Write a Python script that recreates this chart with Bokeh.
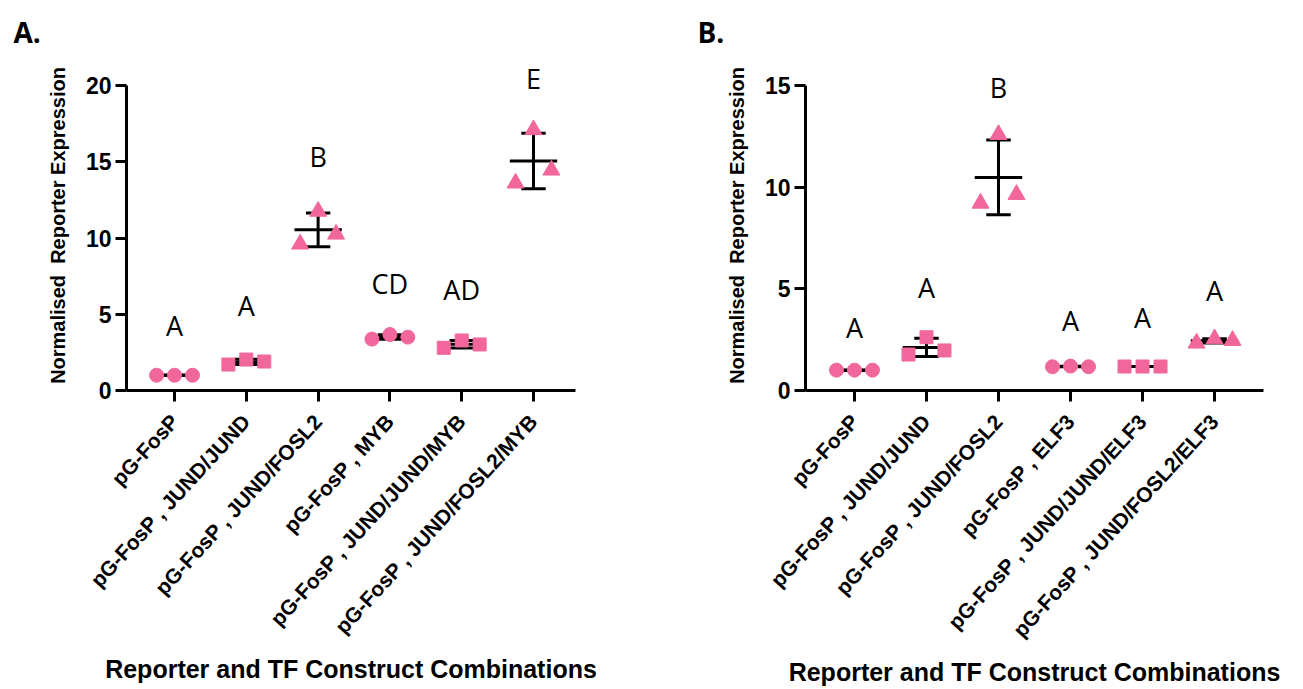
import numpy as np
from bokeh.plotting import figure
from bokeh.layouts import row
from bokeh.models import FixedTicker, Range1d, ColumnDataSource
from bokeh.core.properties import value
from bokeh.embed import file_html
from bokeh.resources import INLINE

# ---------------- data ----------------
labels_a = ["pG-FosP", "pG-FosP , JUND/JUND", "pG-FosP , JUND/FOSL2",
            "pG-FosP , MYB", "pG-FosP , JUND/JUND/MYB", "pG-FosP , JUND/FOSL2/MYB"]
labels_b = ["pG-FosP", "pG-FosP , JUND/JUND", "pG-FosP , JUND/FOSL2",
            "pG-FosP , ELF3", "pG-FosP , JUND/JUND/ELF3", "pG-FosP , JUND/FOSL2/ELF3"]

a_pgfosp = [1.0, 1.0, 1.0]
a_jund_jund = [1.70, 2.03, 1.90]
a_jund_fosl2 = [9.6, 11.75, 10.25]
a_myb = [3.37, 3.67, 3.50]
a_jund_jund_myb = [2.80, 3.28, 3.02]
a_jund_fosl2_myb = [13.6, 17.1, 14.45]
letters_a = ["A", "A", "B", "CD", "AD", "E"]
letter_y_a = [4.26, 5.57, 15.36, 7.04, 6.62, 20.44]

b_pgfosp = [1.0, 1.0, 1.0]
b_jund_jund = [1.77, 2.62, 1.97]
b_jund_fosl2 = [9.21, 12.59, 9.64]
b_elf3 = [1.17, 1.20, 1.17]
b_jund_jund_elf3 = [1.18, 1.18, 1.18]
b_jund_fosl2_elf3 = [2.33, 2.54, 2.46]
letters_b = ["A", "A", "B", "A", "A", "A"]
letter_y_b = [3.11, 5.08, 14.92, 3.44, 3.61, 4.92]

yticks_a = [0, 5, 10, 15, 20]
yticks_b = [0, 5, 10, 15]

markers = ["circle", "square", "triangle", "circle", "square", "triangle"]

PINK = "#F2679B"
AXFONT = "Liberation Sans"
H = 689
TOP = 60
BOTTOM = H - 390


def make_panel(groups, labels, letters, letter_y, yticks, panel_letter,
               width, border_left, frame_w, x_range, y_top, title_offset):
    p = figure(width=width, height=H, output_backend="svg", toolbar_location=None,
               x_range=Range1d(*x_range), y_range=Range1d(0, y_top),
               min_border_left=border_left, min_border_right=width - border_left - frame_w,
               min_border_top=TOP, min_border_bottom=BOTTOM)
    p.outline_line_color = None
    p.grid.visible = False
    p.background_fill_color = "white"
    p.border_fill_color = "white"

    p.title.text = panel_letter
    p.title.text_font = "Open Sans"
    p.title.text_font_style = "bold"
    p.title.text_font_size = "28px"
    p.title.text_color = "black"
    p.title.align = "left"
    p.title.offset = title_offset
    p.title.standoff = 19

    cats = list(range(1, len(labels) + 1))
    jit = [-0.25, 0.0, 0.25]
    means = [float(np.mean(g)) for g in groups]
    sds = [float(np.std(g, ddof=1)) for g in groups]

    # error bars (mean +/- SD)
    p.segment(x0=[c - 0.33 for c in cats], x1=[c + 0.33 for c in cats], y0=means, y1=means,
              line_color="black", line_width=3)
    p.segment(x0=cats, x1=cats, y0=[m - s for m, s in zip(means, sds)],
              y1=[m + s for m, s in zip(means, sds)], line_color="black", line_width=3)
    for sign in (1, -1):
        ys = [m + sign * s for m, s in zip(means, sds)]
        p.segment(x0=[c - 0.17 for c in cats], x1=[c + 0.17 for c in cats], y0=ys, y1=ys,
                  line_color="black", line_width=3)

    for c, g, mk in zip(cats, groups, markers):
        size = {"circle": 14, "square": 13, "triangle": 17}[mk]
        p.scatter(x=[c + j for j in jit], y=g, marker=mk, size=size,
                  fill_color=PINK, line_color=PINK)

    src = ColumnDataSource(dict(x=cats, y=letter_y, t=letters))
    p.text(x="x", y="y", text="t", source=src, text_align="center", text_baseline="middle",
           text_font=value("Open Sans"), text_font_size="27px", text_color="black")

    # axes
    for ax in (p.xaxis[0], p.yaxis[0]):
        ax.axis_line_width = 3
        ax.major_tick_line_width = 3
        ax.major_tick_out = 11
        ax.major_tick_in = 0
        ax.minor_tick_line_color = None
        ax.major_label_text_font = AXFONT
        ax.major_label_text_font_style = "bold"
        ax.major_label_text_color = "black"
        ax.axis_label_text_font = AXFONT
        ax.axis_label_text_font_style = "bold"
        ax.axis_label_text_color = "black"
    p.yaxis.ticker = FixedTicker(ticks=yticks)
    p.yaxis.bounds = (0, yticks[-1])
    p.yaxis.major_label_text_font_size = "23px"
    p.yaxis.major_label_standoff = 4
    p.yaxis.axis_label = "Normalised\u00a0 Reporter Expression"
    p.yaxis.axis_label_text_font_size = "20px"
    p.yaxis.axis_label_standoff = 14

    p.xaxis.ticker = FixedTicker(ticks=cats)
    p.xaxis.major_label_overrides = {c: l for c, l in zip(cats, labels)}
    p.xaxis.major_label_orientation = 0.83
    p.xaxis.major_label_text_font_size = "21px"
    p.xaxis.major_label_standoff = 16
    p.xaxis.axis_label = "Reporter and TF Construct Combinations"
    p.xaxis.axis_label_text_font_size = "25px"
    p.xaxis.axis_label_standoff = 6
    return p


pa = make_panel([a_pgfosp, a_jund_jund, a_jund_fosl2, a_myb, a_jund_jund_myb, a_jund_fosl2_myb],
                labels_a, letters_a, letter_y_a, yticks_a, "A.",
                width=680, border_left=126, frame_w=449, x_range=(0.331, 6.585),
                y_top=21.64, title_offset=-113)
pb = make_panel([b_pgfosp, b_jund_jund, b_jund_fosl2, b_elf3, b_jund_jund_elf3, b_jund_fosl2_elf3],
                labels_b, letters_b, letter_y_b, yticks_b, "B.",
                width=620, border_left=125, frame_w=458, x_range=(0.32, 6.68),
                y_top=16.23, title_offset=-108)

layout = row(pa, pb)
open("out.html", "w").write(file_html(layout, INLINE))
